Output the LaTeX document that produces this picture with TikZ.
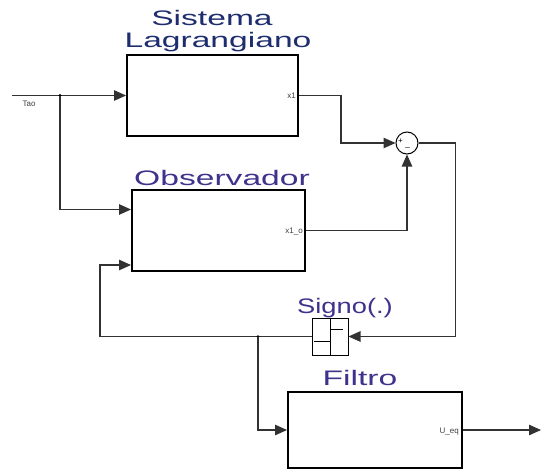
\documentclass[tikz,border=0pt]{standalone}
\usepackage{fontspec}
\setmainfont{Liberation Sans}
\newfontfamily\titlefont[FakeStretch=1.6]{Liberation Sans}
\newfontfamily\signofont[FakeStretch=1.3]{Liberation Sans}
\usetikzlibrary{arrows.meta,calc}
\definecolor{navy}{RGB}{30,45,110}
\definecolor{purp}{RGB}{62,50,140}
\definecolor{wirec}{RGB}{50,50,50}
\begin{document}
\begin{tikzpicture}[x=1pt,y=-1pt,
  blk/.style={draw=black,line width=2pt,fill=white,inner sep=0pt},
  wire/.style={draw=wirec,line width=1.1pt},
  arr/.style={-{Triangle[length=12pt,width=10.5pt]}},
  port/.style={font=\fontsize{8}{9}\selectfont,text=black!75,inner sep=0pt},
  ttl/.style={anchor=base,font=\fontsize{21}{24}\selectfont\titlefont,inner sep=0pt}]
\useasboundingbox (0,0) rectangle (541,474);
\fill[white] (0,0) rectangle (541,474);
% blocks
\node[blk,minimum width=171pt,minimum height=81pt] (sl) at (212.5,95.5) {};
\node[blk,minimum width=173pt,minimum height=81pt] (obs) at (218.5,230.5) {};
\node[blk,minimum width=174pt,minimum height=76pt] (fil) at (375,430) {};
\node[draw=black,line width=1pt,fill=white,minimum width=36pt,minimum height=37pt,inner sep=0pt] (sgn) at (330,336.5) {};
\node[draw=black,line width=1pt,circle,minimum size=22pt,inner sep=0pt] (sum) at (407,143) {};
% sign symbol
\draw[line width=0.9pt] (sgn.north) -- (sgn.south);
\draw[line width=0.9pt] ($(sgn.center)+(0,-7)$) -- ($(sgn.center)+(13,-7)$);
\draw[line width=0.9pt] ($(sgn.center)+(0,4.5)$) -- ($(sgn.center)+(-16,4.5)$);
% sum signs
\node[font=\fontsize{8}{8}\selectfont,inner sep=0pt] (plus) at (400.5,141) {+};
\node[font=\fontsize{8}{8}\selectfont,inner sep=0pt] (minus) at (407.5,147) {\_};
% titles
\node[ttl,text=navy] (t1) at (212,25) {Sistema};
\node[ttl,text=navy] (t2) at (218,47) {Lagrangiano};
\node[ttl,text=purp] (t3) at (222,185) {Observador};
\node[ttl,text=purp,font=\fontsize{21}{24}\selectfont\signofont] (t4) at (345,313) {Signo(.)};
\node[ttl,text=purp] (t5) at (360,385) {Filtro};
% port labels
\node[port] (ltao) at (29,104) {Tao};
\node[port,anchor=east] (lx1) at ($(sl.east)+(-3,0)$) {x1};
\node[port,anchor=east] (lx1o) at ($(obs.east)+(-3,1)$) {x1\_o};
\node[port,anchor=east] (lueq) at ($(fil.east)+(-4,2)$) {U\_eq};
% connectors
\coordinate (tao0) at (12,95.5);
\coordinate (b1) at (60,95.5);
\coordinate (b2) at (258,336.5);
\coordinate (out) at (541,430);
\draw[wire,arr] (tao0) -- (sl.west);
\fill[black] (b1) circle (1.6pt);
\draw[wire,arr] (b1) |- ($(obs.west)+(0,-21)$);
\draw[wire,arr] (sl.east) -- ++(42,0) |- (sum.west);
\draw[wire,arr] (obs.east) -| (sum.south);
\draw[wire,arr] (sum.east) -- ++(37,0) |- (sgn.east);
\draw[wire,arr] (sgn.west) -- (100,336.5) |- ($(obs.west)+(0,34.5)$);
\fill[black] (b2) circle (1.4pt);
\draw[wire,arr] (b2) |- (fil.west);
\draw[wire,arr] (fil.east) -- (out);
\end{tikzpicture}
\end{document}
